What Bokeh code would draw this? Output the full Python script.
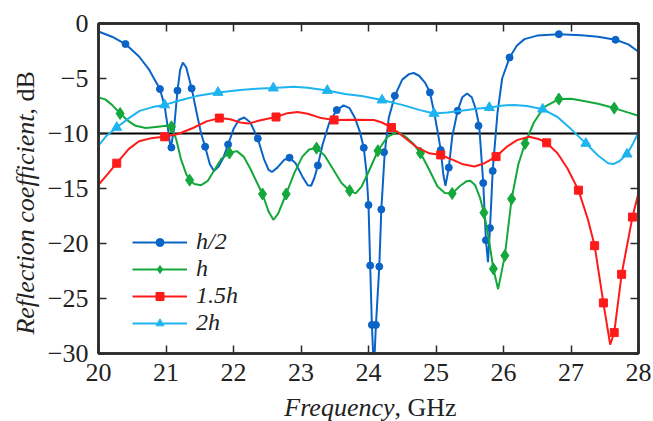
import numpy as np
from bokeh.plotting import figure
from bokeh.layouts import row, column
from bokeh.models import (Range1d, LinearAxis, FixedTicker, CustomJSTickFormatter,
                          Span, Legend, LegendItem)
from bokeh.core.properties import value
from bokeh.embed import file_html
from bokeh.resources import INLINE

# ---------------- data ----------------
x_ticks = [20, 21, 22, 23, 24, 25, 26, 27, 28]
y_ticks = [0, -5, -10, -15, -20, -25, -30]
series_labels = ["h/2", "h", "1.5h", "2h"]
x_title = ["Frequency", ", GHz"]
y_title = ["Reflection coefficient", ", dB"]

# h/2 : curve
h2_x = [20.00, 20.20, 20.40, 20.60, 20.75, 20.91, 20.98, 21.03, 21.07, 21.12, 21.17, 21.21,
        21.25, 21.30, 21.38, 21.45, 21.52, 21.58, 21.65, 21.71, 21.78, 21.85, 21.92, 22.00,
        22.08, 22.16, 22.25, 22.36, 22.45, 22.52, 22.57, 22.65, 22.75, 22.83, 22.92, 23.02,
        23.10, 23.15, 23.20, 23.25, 23.32, 23.42, 23.53, 23.63, 23.72, 23.80, 23.87, 23.93,
        23.97, 24.00, 24.025, 24.05, 24.08, 24.11, 24.16, 24.19, 24.24, 24.30, 24.39, 24.50,
        24.60, 24.67, 24.75, 24.84, 24.91, 24.98, 25.04, 25.07, 25.11, 25.14, 25.19, 25.24,
        25.32, 25.39, 25.46, 25.53, 25.59, 25.64, 25.70, 25.74, 25.77, 25.80, 25.84, 25.91,
        25.98, 26.09, 26.20, 26.31, 26.50, 26.82, 27.15, 27.40, 27.66, 27.85, 28.00]
h2_y = [-0.73, -1.2, -1.87, -3.0, -4.2, -5.96, -7.5, -9.6, -11.4, -9.5, -6.1, -4.2,
        -3.55, -4.0, -5.9, -8.0, -10.0, -11.2, -12.8, -13.4, -13.0, -12.2, -11.0, -9.6,
        -8.75, -8.55, -9.0, -10.45, -12.3, -13.3, -13.5, -13.1, -12.4, -12.2, -12.7, -13.9,
        -14.7, -14.75, -14.0, -12.9, -11.0, -9.0, -7.87, -7.45, -7.7, -8.6, -9.8, -11.3,
        -13.5, -16.5, -22.0, -27.4, -31.5, -27.4, -22.1, -16.9, -11.8, -8.6, -6.57, -5.1,
        -4.6, -4.5, -4.75, -5.4, -6.27, -8.3, -10.4, -11.5, -13.8, -14.75, -13.1, -10.3,
        -7.94, -6.7, -6.36, -6.7, -7.8, -9.3, -14.5, -19.7, -21.7, -18.6, -13.4, -8.18,
        -5.0, -3.09, -2.0, -1.42, -1.1, -0.97, -1.06, -1.2, -1.48, -1.9, -2.57]
# h/2 : markers
h2_mx = [20.40, 20.91, 21.08, 21.17, 21.38, 21.58, 21.92, 22.36, 22.83, 23.25, 23.53, 23.93,
         24.00, 24.025, 24.05, 24.11, 24.16, 24.19, 24.23, 24.39, 24.91, 25.07, 25.19, 25.32,
         25.63, 25.70, 25.74, 25.80, 25.84, 26.09, 26.82, 27.66]
h2_my = [-1.87, -5.96, -11.27, -6.1, -5.9, -11.2, -11.0, -10.45, -12.2, -12.9, -7.87, -11.3,
         -16.5, -22.0, -27.4, -27.4, -22.1, -16.9, -11.7, -6.57, -6.27, -11.5, -13.1, -7.94,
         -9.3, -14.5, -19.7, -18.6, -13.4, -3.09, -0.97, -1.48]

# h : curve
h_x = [20.00, 20.10, 20.20, 20.32, 20.45, 20.55, 20.70, 20.85, 21.00, 21.08, 21.15, 21.22,
       21.30, 21.35, 21.42, 21.52, 21.62, 21.72, 21.82, 21.94, 22.05, 22.15, 22.25, 22.35,
       22.43, 22.52, 22.59, 22.66, 22.78, 22.90, 23.02, 23.12, 23.23, 23.35, 23.48, 23.60,
       23.72, 23.81, 23.90, 24.00, 24.14, 24.28, 24.43, 24.55, 24.66, 24.77, 24.90, 25.02,
       25.13, 25.24, 25.35, 25.45, 25.51, 25.58, 25.65, 25.71, 25.78, 25.85, 25.92, 26.02,
       26.12, 26.22, 26.32, 26.45, 26.60, 26.82, 27.00, 27.15, 27.40, 27.64, 27.85, 28.00]
h_y = [-6.73, -6.9, -7.4, -8.18, -8.9, -9.3, -9.5, -9.4, -9.3, -9.35, -10.5, -12.3,
       -13.7, -14.24, -14.6, -14.7, -14.3, -13.3, -12.3, -11.78, -11.6, -12.1, -13.2, -14.5,
       -15.5, -17.1, -17.85, -17.3, -15.5, -13.6, -12.1, -11.45, -11.33, -12.0, -13.3, -14.5,
       -15.2, -15.45, -14.8, -13.5, -11.57, -10.3, -9.84, -10.3, -10.9, -11.78, -13.3, -14.8,
       -15.4, -15.45, -14.8, -14.35, -14.3, -14.7, -15.8, -17.2, -19.5, -22.3, -24.15, -21.1,
       -15.95, -12.8, -10.9, -9.0, -7.6, -6.87, -6.85, -7.0, -7.3, -7.69, -8.1, -8.39]
h_mx = [20.32, 21.08, 21.35, 21.94, 22.43, 22.78, 23.23, 23.72, 24.14, 24.77, 25.24, 25.71,
        25.85, 26.02, 26.12, 26.32, 26.82, 27.64]
h_my = [-8.18, -9.39, -14.24, -11.78, -15.5, -15.5, -11.33, -15.2, -11.57, -11.78, -15.45, -17.2,
        -22.3, -21.1, -15.95, -10.9, -6.87, -7.69]

# 1.5h : curve
h15_x = [20.00, 20.12, 20.27, 20.45, 20.60, 20.80, 20.98, 21.18, 21.40, 21.60, 21.79, 21.95,
         22.10, 22.22, 22.40, 22.63, 22.80, 22.95, 23.10, 23.30, 23.49, 23.80, 24.08, 24.20,
         24.34, 24.50, 24.72, 24.90, 25.07, 25.25, 25.40, 25.57, 25.72, 25.89, 26.05, 26.20,
         26.38, 26.52, 26.64, 26.80, 26.95, 27.11, 27.25, 27.35, 27.48, 27.58, 27.64, 27.75,
         27.91, 28.00]
h15_y = [-14.66, -13.8, -12.7, -11.4, -10.7, -10.4, -10.3, -10.05, -9.5, -8.9, -8.6, -8.7,
         -9.0, -9.1, -8.8, -8.5, -8.15, -8.05, -8.2, -8.6, -8.77, -8.75, -8.78, -9.0,
         -9.45, -10.2, -11.27, -11.8, -11.95, -12.4, -12.8, -13.0, -12.7, -12.1, -11.2, -10.6,
         -10.3, -10.5, -10.85, -11.8, -13.2, -15.15, -17.8, -20.2, -25.4, -29.2, -28.1, -22.8,
         -17.6, -15.4]
h15_mx = [20.27, 20.98, 21.79, 22.63, 23.49, 24.34, 25.07, 25.89, 26.64, 27.11, 27.35, 27.48,
          27.64, 27.75, 27.91]
h15_my = [-12.7, -10.3, -8.6, -8.5, -8.77, -9.45, -11.95, -12.1, -10.85, -15.15, -20.2, -25.4,
          -28.1, -22.8, -17.6]

# 2h : curve
h20_x = [20.00, 20.12, 20.27, 20.45, 20.61, 20.80, 20.98, 21.20, 21.45, 21.77, 22.10, 22.40,
         22.59, 22.89, 23.10, 23.39, 23.65, 23.90, 24.20, 24.50, 24.75, 24.97, 25.17, 25.40,
         25.60, 25.79, 26.00, 26.16, 26.35, 26.58, 26.80, 27.00, 27.22, 27.40, 27.55, 27.63,
         27.72, 27.83, 27.92, 28.00]
h20_y = [-11.1, -10.2, -9.45, -8.6, -7.94, -7.6, -7.4, -7.0, -6.6, -6.27, -6.05, -5.9,
         -5.87, -5.75, -5.85, -6.09, -6.4, -6.6, -6.96, -7.4, -7.85, -8.18, -8.1, -7.9,
         -7.75, -7.64, -7.45, -7.4, -7.5, -7.79, -8.5, -9.6, -10.9, -12.0, -12.7, -12.78,
         -12.5, -11.87, -10.9, -9.9]
h20_mx = [20.27, 20.98, 21.77, 22.59, 23.39, 24.20, 24.97, 25.79, 26.58, 27.22, 27.83]
h20_my = [-9.45, -7.4, -6.27, -5.87, -6.09, -6.96, -8.18, -7.64, -7.79, -10.9, -11.87]

threshold = -10

# ---------------- styling ----------------
FONT = "Liberation Serif, Times New Roman, serif"
FS = "26px"
AX = "#2b2b2b"
TXT = "#222222"
BLUE = "#0a64c8"
GREEN = "#14a83c"
RED = "#ff1a1a"
LBLUE = "#1eb4f0"

PAGE_W, PAGE_H = 653, 421
W_LEFT = 42      # strip holding the y-axis title
H_BOTTOM = 29    # full-width strip holding the x-axis title
W_MAIN = PAGE_W - W_LEFT
H_MAIN = PAGE_H - H_BOTTOM

# ---------------- main plot ----------------
p = figure(width=W_MAIN, height=H_MAIN, output_backend="svg", toolbar_location=None,
           x_range=Range1d(20, 28), y_range=Range1d(-30, 0),
           min_border_left=98 - W_LEFT, min_border_right=15, min_border_top=23,
           min_border_bottom=H_MAIN - 353,
           background_fill_color="white", border_fill_color="white")
p.grid.visible = False
p.outline_line_color = AX
p.outline_line_width = 2.5

fmt = CustomJSTickFormatter(code="return tick < 0 ? '\u2212' + Math.abs(tick) : tick.toString();")
blank = CustomJSTickFormatter(code="return '';")

def style_axis(ax, ticks, show_labels, standoff):
    ax.ticker = FixedTicker(ticks=ticks)
    ax.axis_line_color = AX
    ax.axis_line_width = 2.5
    ax.major_tick_line_color = AX
    ax.major_tick_line_width = 1.5
    ax.major_tick_in = 8
    ax.major_tick_out = 0
    ax.minor_tick_line_color = None
    ax.major_label_text_font = FONT
    ax.major_label_text_color = TXT
    ax.major_label_text_font_size = FS
    if show_labels:
        ax.major_label_standoff = standoff
    else:
        ax.formatter = blank
        ax.major_label_standoff = 0

style_axis(p.xaxis[0], x_ticks, True, 10)
style_axis(p.yaxis[0], y_ticks, True, 10)
p.yaxis[0].formatter = fmt

top = LinearAxis()
style_axis(top, x_ticks, False, 0)
p.add_layout(top, "above")
right = LinearAxis()
style_axis(right, y_ticks, False, 0)
p.add_layout(right, "right")

p.add_layout(Span(location=threshold, dimension="width", line_color="black",
                  line_width=2, level="underlay"))

series = [
    (h2_x, h2_y, h2_mx, h2_my, BLUE, "circle", 7),
    (h_x, h_y, h_mx, h_my, GREEN, "diamond", 12),
    (h15_x, h15_y, h15_mx, h15_my, RED, "square", 8),
    (h20_x, h20_y, h20_mx, h20_my, LBLUE, "triangle", 10),
]

items = []
for (cx, cy, mx, my, col, mk, sz), lab in zip(series, series_labels):
    lr = p.line(cx, cy, line_color=col, line_width=2)
    sr = p.scatter(mx, my, marker=mk, size=sz, fill_color=col, line_color=col)
    items.append(LegendItem(label=lab, renderers=[lr, sr]))

legend = Legend(items=items, location=(34, 17), orientation="vertical",
                glyph_width=55, glyph_height=20, label_standoff=9, label_height=20,
                label_text_font=FONT, label_text_font_size="24px", label_text_font_style="italic",
                label_text_color=TXT, spacing=0, padding=0, margin=0,
                border_line_color=None, background_fill_alpha=0)
p.add_layout(legend)

# ---------------- title strips (pixel-unit ranges, origin bottom-left) ----------------
def strip(w, h):
    s = figure(width=w, height=h, output_backend="svg", toolbar_location=None,
               x_range=Range1d(0, w), y_range=Range1d(0, h), min_border=0,
               x_axis_location=None, y_axis_location=None,
               background_fill_color="white", border_fill_color="white")
    s.grid.visible = False
    s.outline_line_color = None
    return s

tkw = dict(text_font=value(FONT), text_font_size=FS, text_color=TXT, text_baseline="middle")

# y title: glyph baseline at page x ~33, joint of the two parts at page y ~108
ys = strip(W_LEFT, H_MAIN)
ys.text(x=[24.5], y=[H_MAIN - 108], text=[y_title[0]], angle=np.pi / 2, text_align="right",
        text_font_style="italic", **tkw)
ys.text(x=[24.5], y=[H_MAIN - 108], text=[y_title[1]], angle=np.pi / 2, text_align="left",
        text_font_style="normal", **tkw)

# x title: glyph baseline at page y ~415, joint of the two parts at page x ~394
xs = strip(PAGE_W, H_BOTTOM)
xs.text(x=[394], y=[PAGE_H - 406.5], text=[x_title[0]], text_align="right",
        text_font_style="italic", **tkw)
xs.text(x=[394], y=[PAGE_H - 406.5], text=[x_title[1]], text_align="left",
        text_font_style="normal", **tkw)

layout = column(row(ys, p, spacing=0), xs, spacing=0)

open("out.html", "w").write(file_html(layout, INLINE))
